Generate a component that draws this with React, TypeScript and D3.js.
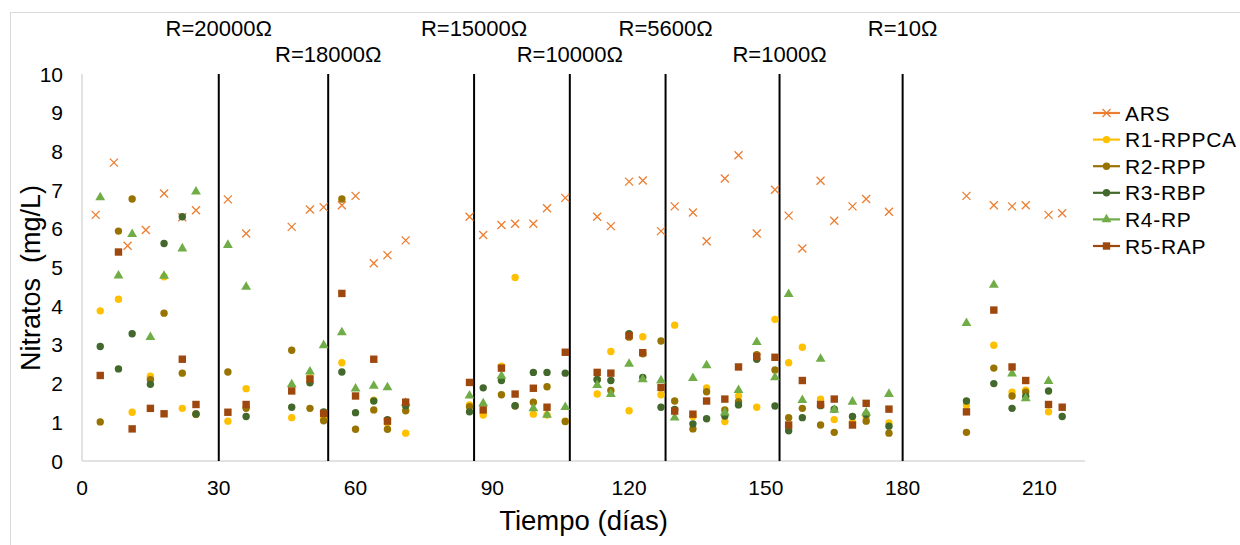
import React from "react";
import * as d3 from "d3";

const arsDays = [3, 7, 10, 14, 18, 22, 25, 32, 36, 46, 50, 53, 57, 60, 64, 67, 71, 85, 88, 92, 95, 99, 102, 106, 113, 116, 120, 123, 127, 130, 134, 137, 141, 144, 148, 152, 155, 158, 162, 165, 169, 172, 177, 194, 200, 204, 207, 212, 215];
const reactorDays = [4, 8, 11, 15, 18, 22, 25, 32, 36, 46, 50, 53, 57, 60, 64, 67, 71, 85, 88, 92, 95, 99, 102, 106, 113, 116, 120, 123, 127, 130, 134, 137, 141, 144, 148, 152, 155, 158, 162, 165, 169, 172, 177, 194, 200, 204, 207, 212, 215];

const ARS = [6.36, 7.71, 5.56, 5.97, 6.91, 6.30, 6.48, 6.76, 5.88, 6.05, 6.50, 6.56, 6.61, 6.85, 5.11, 5.32, 5.70, 6.31, 5.84, 6.10, 6.13, 6.13, 6.53, 6.80, 6.31, 6.07, 7.22, 7.25, 5.94, 6.58, 6.42, 5.68, 7.30, 7.90, 5.88, 7.01, 6.34, 5.49, 7.24, 6.21, 6.58, 6.77, 6.44, 6.85, 6.61, 6.58, 6.61, 6.36, 6.40];
const R1 = [3.88, 4.18, 1.26, 2.19, 4.76, 1.36, 1.20, 1.03, 1.87, 1.12, 2.15, 1.08, 2.54, null, 1.57, 0.98, 0.72, 1.45, 1.19, 2.45, 4.74, 1.21, 1.19, 1.03, 1.73, 2.83, 1.30, 3.21, 1.71, 3.51, 1.15, 1.89, 1.02, 1.68, 1.39, 3.66, 2.54, 2.94, 1.60, 1.07, 1.00, 1.13, 0.98, 1.45, 2.99, 1.78, 1.83, 1.27, null];
const R2 = [1.01, 5.94, 6.77, 2.10, 3.82, 2.27, 1.22, 2.30, 1.36, 2.86, 1.36, 1.04, 6.77, 0.82, 1.32, 0.82, 1.30, 1.40, null, 1.71, 1.42, 1.52, 1.92, 1.02, 2.11, 1.82, 3.20, 2.77, 3.10, 1.55, 0.83, 1.79, 1.32, 1.53, 2.75, 2.35, 1.12, 1.36, 0.93, 0.74, null, 1.03, 0.72, 0.74, 2.40, 1.68, 1.78, null, null];
const R3 = [2.96, 2.38, 3.29, 1.98, 5.62, 6.31, 1.21, null, 1.15, 1.39, 2.02, 1.27, 2.30, 1.25, 1.55, 1.07, 1.43, 1.27, 1.89, 2.08, 1.43, 2.29, 2.29, 2.27, 2.10, 2.08, 3.29, 2.16, 1.39, 1.33, 0.96, 1.09, 1.16, 1.45, 2.63, 1.42, 0.78, 1.12, 1.43, 1.34, 1.15, 1.20, 0.90, 1.55, 2.00, 1.36, 1.67, 1.81, 1.15];
const R4 = [6.81, 4.79, 5.86, 3.20, 4.78, 5.49, 6.96, 5.58, 4.50, 1.98, 2.31, 2.99, 3.32, 1.87, 1.94, 1.90, 1.50, 1.69, 1.49, 2.20, null, 1.36, 1.19, 1.39, 1.96, 1.73, 2.51, 2.11, 2.08, 1.12, 2.14, 2.47, 1.25, 1.83, 3.07, 2.16, 4.31, 1.57, 2.64, 1.32, 1.53, 1.25, 1.73, 3.56, 4.55, 2.26, 1.62, 2.06, null];
const R5 = [2.21, 5.40, 0.83, 1.36, 1.22, 2.63, 1.46, 1.26, 1.46, 1.81, 2.12, 1.23, 4.33, 1.68, 2.63, 1.03, 1.52, 2.03, 1.32, 2.40, 1.73, 1.88, 1.39, 2.81, 2.29, 2.27, 3.24, 2.80, 1.90, 1.29, 1.21, 1.55, 1.60, 2.43, 2.70, 2.68, 0.93, 2.08, 1.46, 1.60, 0.93, 1.49, 1.34, 1.27, 3.90, 2.43, 2.08, 1.46, 1.39];

const seriesNames = ["ARS", "R1-RPPCA", "R2-RPP", "R3-RBP", "R4-RP", "R5-RAP"];
const seriesColors = ["#ED7D31", "#FFC000", "#997300", "#43682B", "#70AD47", "#9E480E"];
const seriesShapes = ["x", "circle", "circle", "circle", "triangle", "square"];

const resistanceDays = [30, 54, 86, 107, 128, 153, 180];
const resistanceLabels = ["R=20000Ω", "R=18000Ω", "R=15000Ω", "R=10000Ω", "R=5600Ω", "R=1000Ω", "R=10Ω"];
const resistanceLabelRow = [0, 1, 0, 1, 0, 1, 0];

const xTicks = [0, 30, 60, 90, 120, 150, 180, 210];
const yTicks = [0, 1, 2, 3, 4, 5, 6, 7, 8, 9, 10];

const FONT = "'Liberation Sans', Arial, sans-serif";

function Marker({ shape, x, y, color }: { shape: string; x: number; y: number; color: string }) {
  if (shape === "x") {
    const s = 4;
    return (
      <path
        d={`M${x - s},${y - s}L${x + s},${y + s}M${x - s},${y + s}L${x + s},${y - s}`}
        stroke={color}
        strokeWidth={1.3}
        fill="none"
      />
    );
  }
  if (shape === "circle") return <circle cx={x} cy={y} r={3.7} fill={color} />;
  if (shape === "square") return <rect x={x - 3.7} y={y - 3.7} width={7.4} height={7.4} fill={color} />;
  const sym = d3.symbol().type(d3.symbolTriangle).size(42)();
  return <path d={sym as string} transform={`translate(${x},${y})`} fill={color} />;
}

export default function App() {
  const x = d3.scaleLinear().domain([0, 220]).range([82, 1085]);
  const y = d3.scaleLinear().domain([0, 10]).range([461, 74]);

  const allSeries = [ARS, R1, R2, R3, R4, R5];
  const dayArrays = [arsDays, reactorDays, reactorDays, reactorDays, reactorDays, reactorDays];

  return (
    <svg
      width={1240}
      height={545}
      style={{ position: "absolute", left: 0, top: 0, background: "#fff", fontFamily: FONT }}
    >
      <rect x={10.5} y={12.5} width={1240} height={540} fill="#fff" stroke="#d9d9d9" strokeWidth={1} />

      {/* axes */}
      <line x1={x(0)} x2={x(0)} y1={y(10)} y2={y(0)} stroke="#d9d9d9" strokeWidth={1.5} />
      <line x1={x(0)} x2={x(220)} y1={y(0)} y2={y(0)} stroke="#d9d9d9" strokeWidth={1.5} />

      {yTicks.map((t) => (
        <text key={"y" + t} x={63} y={y(t) + 7.5} textAnchor="end" fontSize={21} fill="#000">
          {t}
        </text>
      ))}
      {xTicks.map((t) => (
        <text key={"x" + t} x={x(t)} y={495} textAnchor="middle" fontSize={21} fill="#000">
          {t}
        </text>
      ))}

      <text x={x(110)} y={530} textAnchor="middle" fontSize={27.5} fill="#000">
        Tiempo (días)
      </text>
      <text
        transform={`translate(40,278) rotate(-90)`}
        textAnchor="middle"
        fontSize={27}
        fill="#000"
        style={{ whiteSpace: "pre" }}
      >
        {"Nitratos  (mg/L)"}
      </text>

      {/* resistance change lines */}
      {resistanceDays.map((d, i) => (
        <g key={"r" + i}>
          <line x1={x(d)} x2={x(d)} y1={y(10)} y2={y(0)} stroke="#000" strokeWidth={2} />
          <text
            x={x(d)}
            y={resistanceLabelRow[i] === 0 ? 36 : 62}
            textAnchor="middle"
            fontSize={22}
            fill="#000"
          >
            {resistanceLabels[i]}
          </text>
        </g>
      ))}

      {/* data */}
      {allSeries.map((vals, si) => (
        <g key={"s" + si}>
          {vals.map((v, i) =>
            v == null ? null : (
              <Marker key={i} shape={seriesShapes[si]} x={x(dayArrays[si][i])} y={y(v)} color={seriesColors[si]} />
            )
          )}
        </g>
      ))}

      {/* legend */}
      {seriesNames.map((n, i) => {
        const cy = 113 + i * 26.6;
        return (
          <g key={"l" + i}>
            <line x1={1093} x2={1120} y1={cy} y2={cy} stroke={seriesColors[i]} strokeWidth={2.2} />
            <Marker shape={seriesShapes[i]} x={1106.5} y={cy} color={seriesColors[i]} />
            <text x={1125} y={cy + 7.5} fontSize={21} fill="#000" letterSpacing={0.7}>
              {n}
            </text>
          </g>
        );
      })}
    </svg>
  );
}
